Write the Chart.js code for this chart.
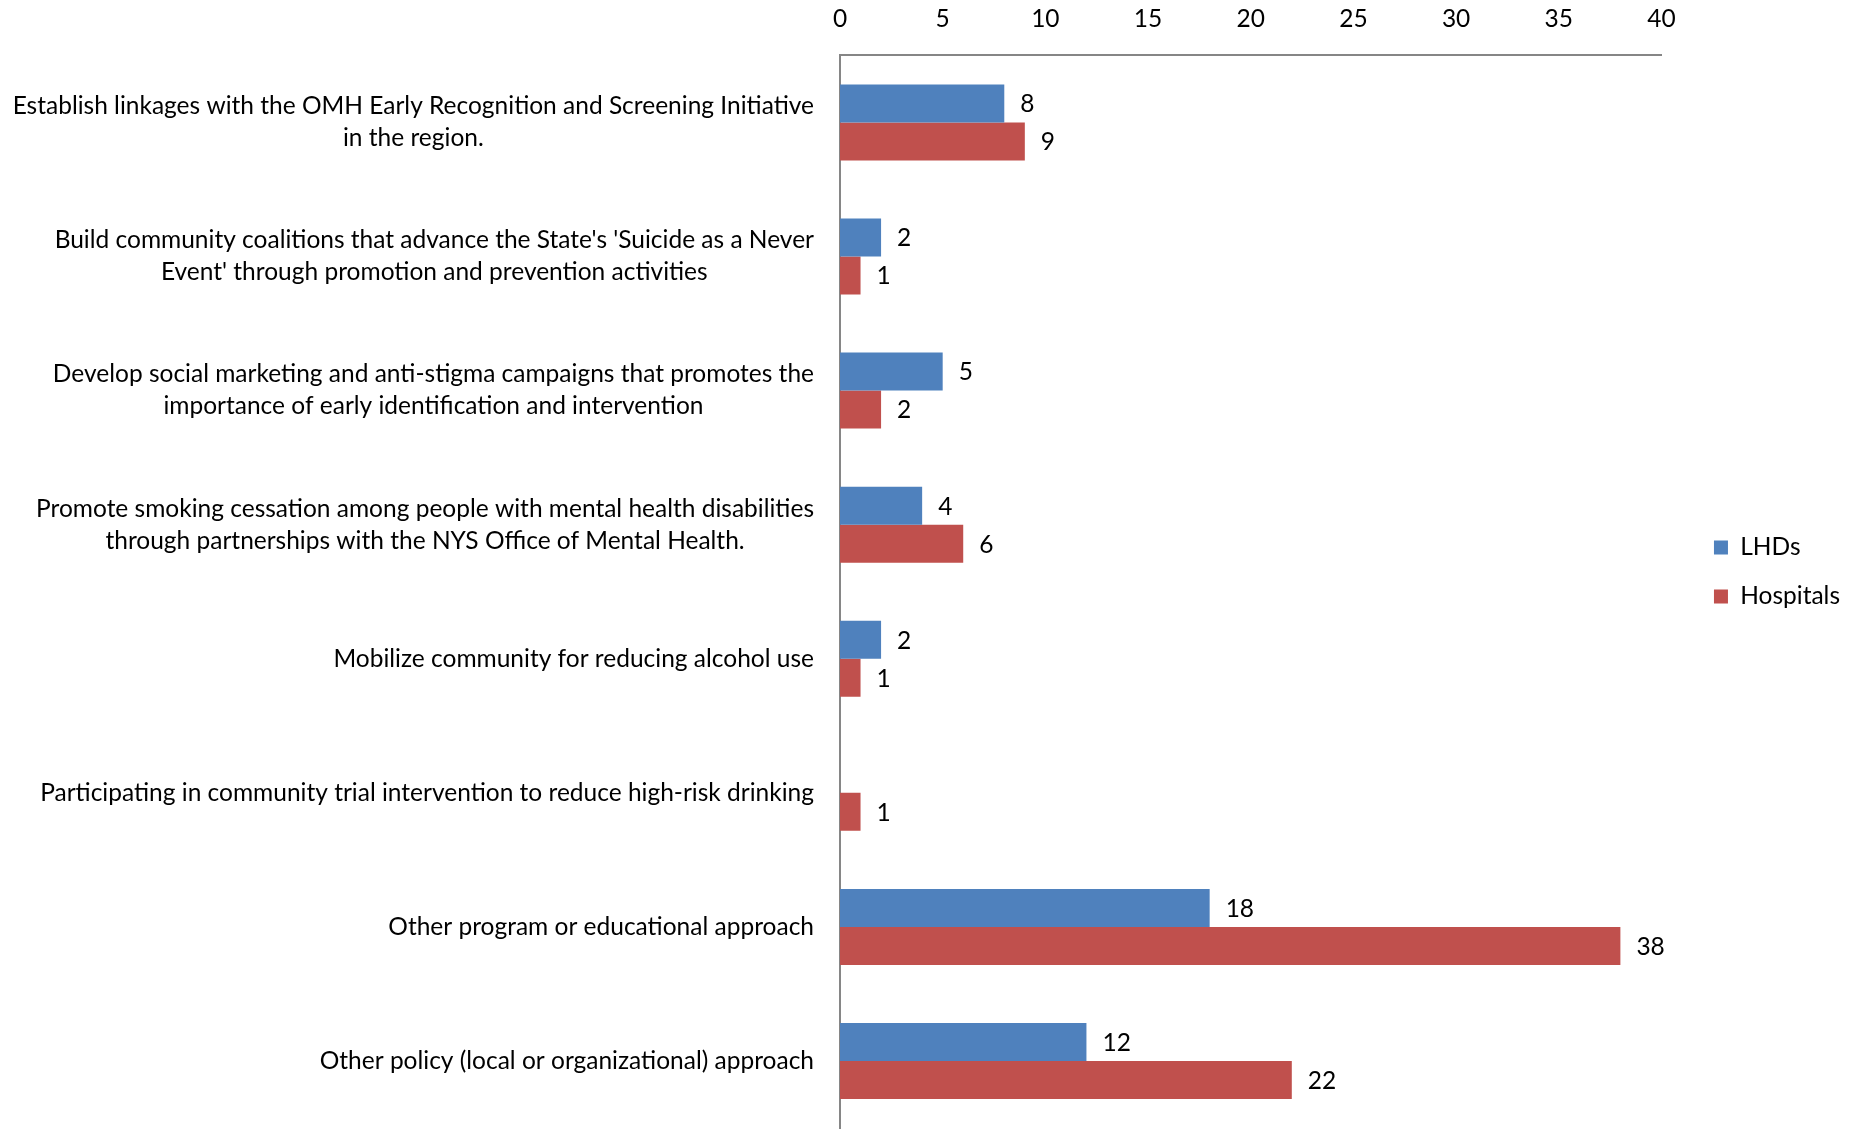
<!DOCTYPE html>
<html>
<head>
<meta charset="utf-8">
<title>Strategies by LHDs and Hospitals</title>
<script src="https://cdn.jsdelivr.net/npm/chart.js@4.4.1/dist/chart.umd.min.js"></script>
<style>
  html, body { margin: 0; padding: 0; background: #fff; }
  canvas { display: block; }
</style>
</head>
<body>
<canvas id="chart" width="1860" height="1132"></canvas>
<script>
    // Categories (each entry = lines of the label)
    const categories = [
      ['Establish linkages with the OMH Early Recognition and Screening Initiative', 'in the region.'],
      ["Build community coalitions that advance the State's 'Suicide as a Never", "Event' through promotion and prevention activities"],
      ['Develop social marketing and anti-stigma campaigns that promotes the', 'importance of early identification and intervention'],
      ['Promote smoking cessation among people with mental health disabilities', 'through partnerships with the NYS Office of Mental Health.'],
      ['Mobilize community for reducing alcohol use'],
      ['Participating in community trial intervention to reduce high-risk drinking'],
      ['Other program or educational approach'],
      ['Other policy (local or organizational) approach']
    ];
    const lhds = [8, 2, 5, 4, 2, null, 18, 12];
    const hospitals = [9, 1, 2, 6, 1, 1, 38, 22];
    const xMin = 0;
    const xMax = 40;
    const xStep = 5;

    const FONT = 'Lato, "Open Sans", sans-serif';
    const FONT_SIZE = 24.5;

    // Draws the category labels (lines centred on each other, block right-aligned)
    const categoryLabels = {
      id: 'categoryLabels',
      afterDraw(chart) {
        const ctx = chart.ctx;
        const yScale = chart.scales.y;
        const right = chart.chartArea.left - 26;
        const lineH = 32;
        ctx.save();
        ctx.font = FONT_SIZE + 'px ' + FONT;
        ctx.fillStyle = '#000';
        ctx.textAlign = 'center';
        ctx.textBaseline = 'middle';
        categories.forEach((lines, i) => {
          const y = yScale.getPixelForTick(i);
          const w = Math.max(...lines.map(l => ctx.measureText(l).width));
          const cx = right - w / 2;
          const y0 = y - (lines.length - 1) * lineH / 2;
          lines.forEach((l, j) => ctx.fillText(l, cx, y0 + j * lineH));
        });
        ctx.restore();
      }
    };

    // Value labels at the end of each bar
    const valueLabels = {
      id: 'valueLabels',
      afterDatasetsDraw(chart) {
        const ctx = chart.ctx;
        ctx.save();
        ctx.font = FONT_SIZE + 'px ' + FONT;
        ctx.fillStyle = '#000';
        ctx.textAlign = 'left';
        ctx.textBaseline = 'middle';
        chart.data.datasets.forEach((ds, di) => {
          const meta = chart.getDatasetMeta(di);
          meta.data.forEach((bar, i) => {
            const v = ds.data[i];
            if (v === null || v === undefined) return;
            ctx.fillText(String(v), bar.x + 16, bar.y + 1);
          });
        });
        ctx.restore();
      }
    };

    new Chart(document.getElementById('chart'), {
      type: 'bar',
      data: {
        labels: categories,
        datasets: [
          { label: 'LHDs', data: lhds, backgroundColor: '#4F81BD', borderWidth: 0 },
          { label: 'Hospitals', data: hospitals, backgroundColor: '#C0504D', borderWidth: 0 }
        ]
      },
      options: {
        indexAxis: 'y',
        responsive: false,
        animation: false,
        categoryPercentage: 0.567,
        barPercentage: 1.0,
        layout: { padding: { top: -18, bottom: 4, left: 0, right: 10 } },
        plugins: {
          legend: {
            position: 'right',
            // empty title only nudges the two entries down a little
            title: { display: true, text: ' ', font: { size: 10 }, padding: { top: 11, bottom: 11 } },
            labels: {
              font: { family: FONT, size: FONT_SIZE },
              color: '#000',
              boxWidth: 14,
              boxHeight: 14,
              padding: 24.5
            }
          },
          tooltip: { enabled: false }
        },
        scales: {
          x: {
            position: 'top',
            min: xMin,
            max: xMax,
            grid: { display: false, drawTicks: false },
            border: { display: true, color: '#868686', width: 2 },
            ticks: {
              stepSize: xStep,
              color: '#000',
              padding: 22,
              font: { family: FONT, size: FONT_SIZE }
            }
          },
          y: {
            grid: { display: false, drawTicks: false },
            border: { display: true, color: '#868686', width: 2 },
            ticks: { display: false },
            afterFit(scale) { scale.width = 840; }
          },
          yRight: {
            position: 'right',
            display: true,
            grid: { display: false, drawTicks: false },
            border: { display: false },
            ticks: { display: false },
            afterFit(scale) { scale.width = 28; }
          }
        }
      },
      plugins: [categoryLabels, valueLabels]
    });
</script>
</body>
</html>
